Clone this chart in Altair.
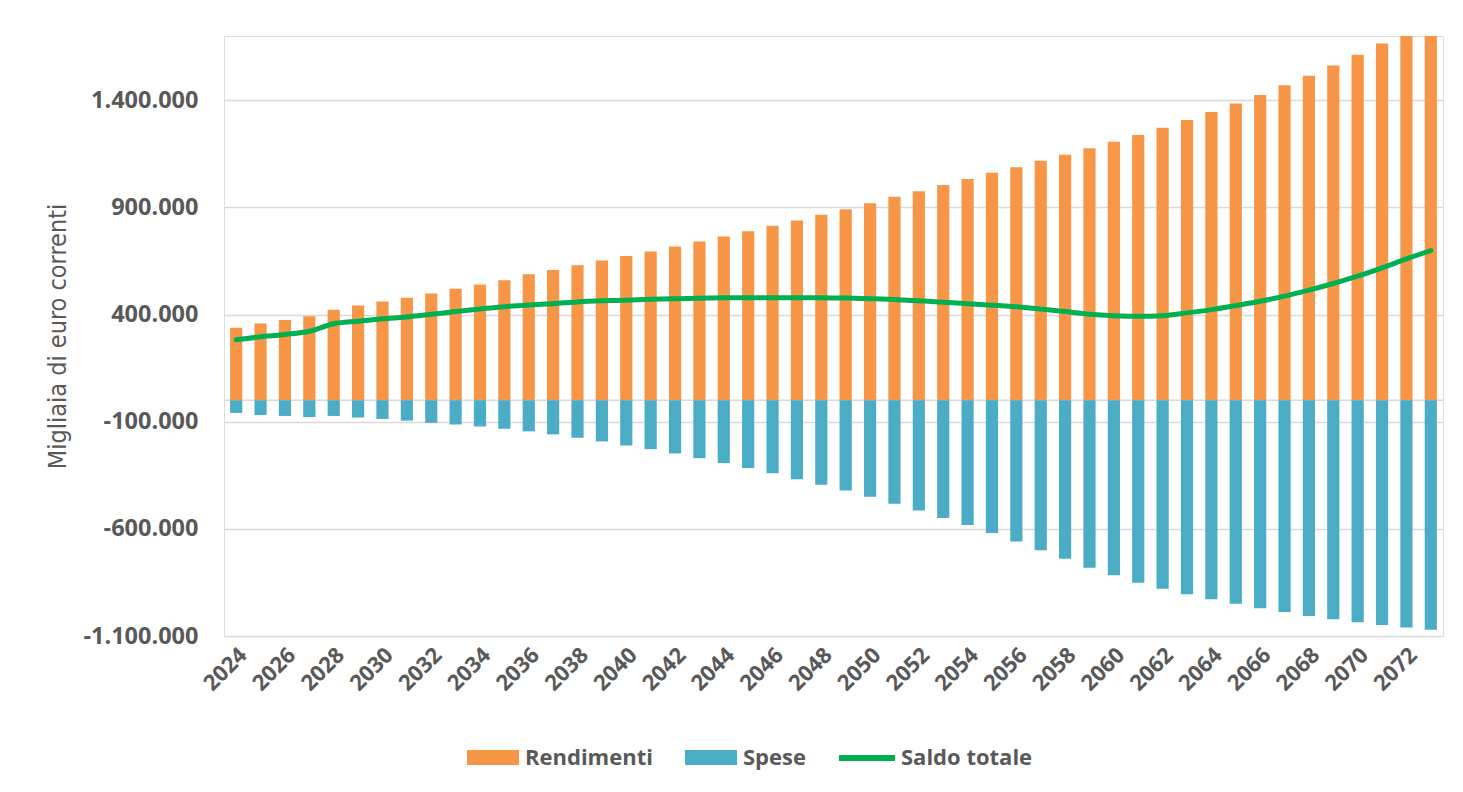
import altair as alt
import pandas as pd

anni = list(range(2024, 2074))
tick_anni = list(range(2024, 2074, 2))
y_ticks = [-1100000, -600000, -100000, 400000, 900000, 1400000]

rendimenti = [338000, 358000, 375000, 392000, 422000, 442000, 461000, 479000, 498000, 520000,
              540000, 560000, 588000, 608000, 630000, 652000, 673000, 694000, 718000, 741000,
              764000, 789000, 814000, 839000, 866000, 892000, 919000, 950000, 976000, 1005000,
              1033000, 1062000, 1088000, 1118000, 1146000, 1176000, 1207000, 1238000, 1272000, 1308000,
              1345000, 1385000, 1425000, 1470000, 1514000, 1562000, 1612000, 1665000, 1720000, 1770000]
spese = [-59000, -69000, -73000, -78000, -73000, -80000, -87000, -95000, -105000, -113000,
         -122000, -133000, -145000, -159000, -175000, -192000, -211000, -228000, -248000, -270000,
         -293000, -316000, -341000, -368000, -394000, -421000, -450000, -483000, -514000, -549000,
         -582000, -619000, -659000, -700000, -739000, -781000, -817000, -852000, -880000, -905000,
         -929000, -949000, -971000, -988000, -1007000, -1022000, -1036000, -1049000, -1060000, -1071000]
saldo = [283000, 296000, 307000, 322000, 357000, 369000, 380000, 389000, 401000, 414000,
         426000, 437000, 445000, 451000, 459000, 464000, 467000, 471000, 474000, 476000,
         478000, 479000, 479000, 479000, 478000, 477000, 474000, 470000, 464000, 458000,
         451000, 444000, 436000, 426000, 414000, 402000, 395000, 392000, 395000, 408000,
         423000, 442000, 462000, 486000, 514000, 545000, 579000, 618000, 660000, 699000]

serie_barre = ["Rendimenti", "Spese"]
colori_barre = ["#F79646", "#4BACC6"]
serie_linea = ["Saldo totale"]
colore_linea = ["#00B050"]

rows = []
for a, r, s in zip(anni, rendimenti, spese):
    rows.append({"anno": a, "valore": r, "serie": serie_barre[0]})
    rows.append({"anno": a, "valore": s, "serie": serie_barre[1]})
df_bars = pd.DataFrame(rows)
df_line = pd.DataFrame({"anno": anni, "valore": saldo, "serie": serie_linea[0]})
df_zero = pd.DataFrame({"v": [0]})

TXT = "#595959"
FONT = "Open Sans"

x_enc = alt.X(
    "anno:O",
    scale=alt.Scale(paddingInner=0.5, paddingOuter=0.25),
    axis=alt.Axis(
        values=tick_anni, title=None, labelAngle=-45, labelFont=FONT, labelFontSize=22,
        labelFontWeight="bold", labelColor=TXT, ticks=False, domain=False, grid=False,
        labelPadding=8, labelOverlap=False,
    ),
)
y_scale = alt.Scale(domain=[-1100000, 1700000], nice=False, zero=False)
y_axis = alt.Axis(
    values=y_ticks, format=",d", title="Migliaia di euro correnti",
    titleFont="Liberation Sans Narrow, DejaVu Sans Condensed, sans-serif",
    titleFontSize=25, titleFontWeight="normal", titleColor=TXT, titleX=-154, titleY=300,
    labelFont=FONT, labelFontSize=23.5, labelFontWeight="bold", labelColor=TXT,
    labelPadding=26, ticks=False, domain=False, grid=True, gridColor="#D9D9D9", gridWidth=1.5,
)

zero_rule = alt.Chart(df_zero).mark_rule(color="#D9D9D9", strokeWidth=1.5).encode(
    y=alt.Y("v:Q", scale=y_scale)
)

bars = alt.Chart(df_bars).mark_bar(clip=True).encode(
    x=x_enc,
    y=alt.Y("valore:Q", scale=y_scale, axis=y_axis, stack=None),
    color=alt.Color(
        "serie:N",
        scale=alt.Scale(domain=serie_barre, range=colori_barre),
        legend=alt.Legend(
            orient="none", legendX=243, legendY=695.5, direction="horizontal", title=None,
            symbolType="M-1,-0.29H1V0.29H-1Z", symbolSize=2704, symbolStrokeWidth=0,
            labelFont=FONT, labelFontSize=22, labelFontWeight="bold", labelColor=TXT,
            labelOffset=6, columnPadding=32,
        ),
    ),
)

line = alt.Chart(df_line).mark_line(strokeWidth=5, interpolate="monotone", strokeCap="round").encode(
    x=x_enc,
    y=alt.Y("valore:Q", scale=y_scale),
    stroke=alt.Stroke(
        "serie:N",
        scale=alt.Scale(domain=serie_linea, range=colore_linea),
        legend=alt.Legend(
            orient="none", legendX=612, legendY=691, title=None,
            symbolType="stroke", symbolSize=3136, symbolStrokeWidth=6,
            labelFont=FONT, labelFontSize=22, labelFontWeight="bold", labelColor=TXT,
            labelOffset=3, labelLimit=300,
        ),
    ),
)

chart = alt.layer(zero_rule, bars, line).resolve_scale(color="independent").properties(
    width=1219, height=600,
    autosize=alt.AutoSizeParams(type="none"),
    padding={"left": 216, "top": 28, "right": 12, "bottom": 140},
).configure_view(stroke=None).configure(
    locale={"number": {"decimal": ",", "thousands": ".", "grouping": [3], "currency": ["€", ""], "minus": "-"}}
)

chart.save("out.html", embed_options={"renderer": "svg", "actions": False})
